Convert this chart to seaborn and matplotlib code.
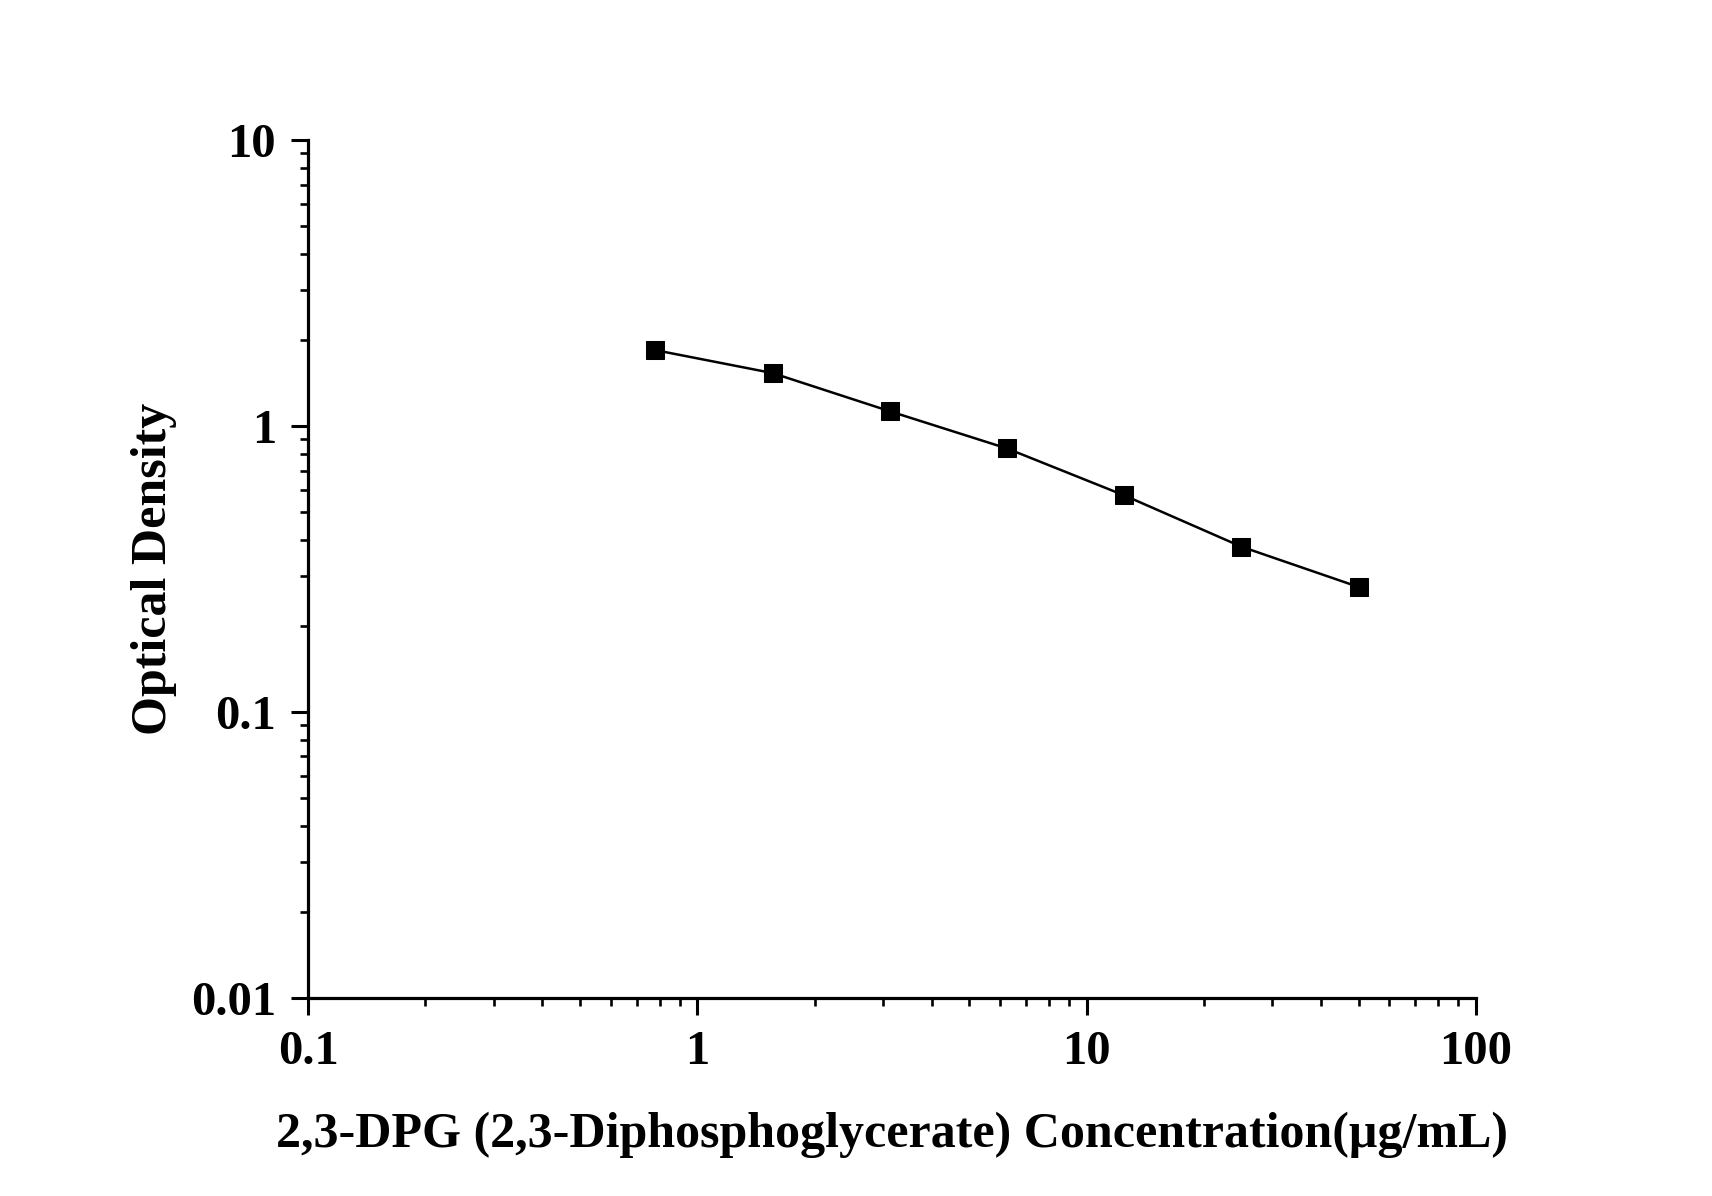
import matplotlib
matplotlib.use("Agg")
import matplotlib.pyplot as plt
import matplotlib.ticker as mticker
import numpy as np
import pandas as pd
import seaborn as sns

# standard curve
concentration = [0.78, 1.56, 3.125, 6.25, 12.5, 25, 50]
optical_density = [1.846, 1.535, 1.128, 0.836, 0.573, 0.379, 0.274]

x_ticks = [0.1, 1, 10, 100]
x_tick_labels = ["0.1", "1", "10", "100"]
y_ticks = [0.01, 0.1, 1, 10]
y_tick_labels = ["0.01", "0.1", "1", "10"]

x_label = "2,3-DPG (2,3-Diphosphoglycerate) Concentration(\u03bcg/mL)"
y_label = "Optical Density"

sns.set_style("ticks")
plt.rcParams["font.family"] = ["Liberation Serif", "DejaVu Serif"]
plt.rcParams["font.weight"] = "bold"
plt.rcParams["text.color"] = "black"
plt.rcParams["axes.labelcolor"] = "black"
plt.rcParams["xtick.color"] = "black"
plt.rcParams["ytick.color"] = "black"

df = pd.DataFrame({"conc": concentration, "od": optical_density})

fig = plt.figure(figsize=(17.12, 11.96), dpi=100)
ax = fig.add_axes([0.180, 0.1656, 0.682, 0.717])

sns.lineplot(data=df, x="conc", y="od", ax=ax, color="black", linewidth=1.8,
             marker="s", markersize=13, markeredgecolor="black", markerfacecolor="black")

ax.set_xscale("log")
ax.set_yscale("log")
ax.set_xlim(0.1, 100)
ax.set_ylim(0.01, 10)

ax.set_xticks(x_ticks)
ax.set_xticklabels(x_tick_labels)
ax.set_yticks(y_ticks)
ax.set_yticklabels(y_tick_labels)
ax.xaxis.set_minor_locator(mticker.LogLocator(base=10, subs=np.arange(2, 10)))
ax.yaxis.set_minor_locator(mticker.LogLocator(base=10, subs=np.arange(2, 10)))
ax.xaxis.set_minor_formatter(mticker.NullFormatter())
ax.yaxis.set_minor_formatter(mticker.NullFormatter())

for side in ["top", "right"]:
    ax.spines[side].set_visible(False)
for side in ["left", "bottom"]:
    ax.spines[side].set_linewidth(2.3)
    ax.spines[side].set_color("black")

ax.tick_params(axis="both", which="major", direction="out", length=12, width=2.2,
               labelsize=35, colors="black")
ax.tick_params(axis="both", which="minor", direction="out", length=6, width=1.9, colors="black")
ax.tick_params(axis="x", which="major", pad=11)
ax.tick_params(axis="y", which="major", pad=11)
for lbl in ax.get_xticklabels() + ax.get_yticklabels():
    lbl.set_fontweight("bold")

ax.set_xlabel(x_label, fontsize=36, fontweight="bold", labelpad=27, color="black")
ax.set_ylabel(y_label, fontsize=36, fontweight="bold", labelpad=10, color="black")

fig.savefig("out.png", dpi=100, facecolor="white")
